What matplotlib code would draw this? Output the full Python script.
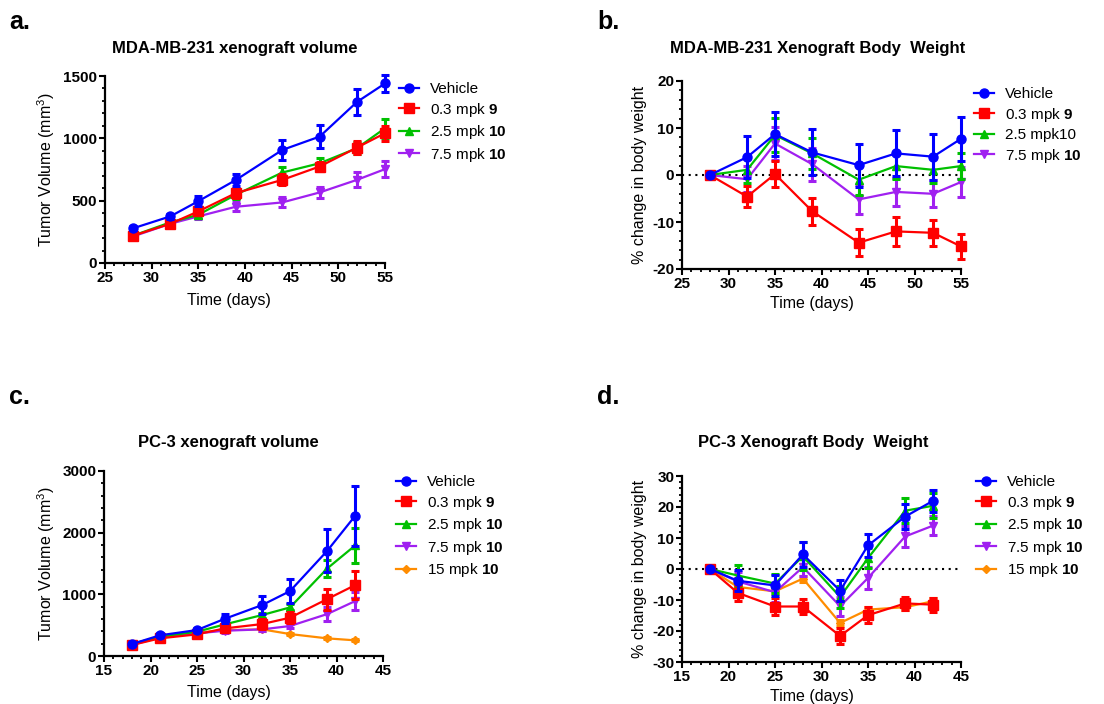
import matplotlib
matplotlib.use("Agg")
import matplotlib.pyplot as plt
from matplotlib.ticker import MultipleLocator
import numpy as np

plt.rcParams['font.family'] = ['Liberation Sans', 'DejaVu Sans']
plt.rcParams['mathtext.fontset'] = 'custom'
plt.rcParams['mathtext.rm'] = 'Liberation Sans'
plt.rcParams['mathtext.bf'] = 'Liberation Sans:bold'
plt.rcParams['mathtext.it'] = 'Liberation Sans:italic'
plt.rcParams['axes.unicode_minus'] = False

# ---------------- data ----------------
# Panel a: MDA-MB-231 xenograft volume
days_a = [28, 32, 35, 39, 44, 48, 52, 55]
vol_a_vehicle = [278, 374, 496, 665, 907, 1014, 1292, 1440]
vol_a_vehicle_err = [15, 20, 40, 45, 77, 90, 105, 65]
vol_a_03 = [219, 315, 414, 560, 667, 774, 926, 1041]
vol_a_03_err = [12, 15, 25, 40, 45, 40, 55, 60]
vol_a_25 = [219, 326, 387, 547, 726, 800, 921, 1081]
vol_a_25_err = [12, 15, 25, 35, 45, 40, 50, 75]
vol_a_75 = [213, 315, 374, 451, 486, 566, 667, 753]
vol_a_75_err = [12, 15, 20, 35, 40, 45, 60, 65]

# Panel b: MDA-MB-231 body weight (% change)
days_b = [28, 32, 35, 39, 44, 48, 52, 55]
bw_b_vehicle = [0, 3.8, 8.7, 4.8, 2.1, 4.6, 3.9, 7.7]
bw_b_vehicle_err = [0.3, 4.4, 4.7, 4.9, 4.6, 4.9, 4.9, 4.7]
bw_b_03 = [0, -4.6, 0.2, -7.7, -14.4, -12.0, -12.3, -15.2]
bw_b_03_err = [0.3, 2.3, 2.7, 2.9, 2.9, 3.1, 2.7, 2.6]
bw_b_25 = [0, 1.1, 8.5, 4.6, -1.0, 1.9, 1.1, 1.9]
bw_b_25_err = [0.3, 2.8, 3.7, 3.3, 3.3, 2.7, 2.8, 2.7]
bw_b_75 = [0, -0.9, 6.7, 2.3, -5.2, -3.6, -4.0, -1.5]
bw_b_75_err = [0.3, 2.8, 3.5, 3.5, 3.0, 2.9, 2.9, 3.2]

# Panel c: PC-3 xenograft volume
days_c = [18, 21, 25, 28, 32, 35, 39, 42]
vol_c_vehicle = [194, 335, 421, 604, 826, 1052, 1705, 2272]
vol_c_vehicle_err = [20, 30, 35, 75, 145, 190, 350, 490]
vol_c_03 = [178, 286, 351, 448, 518, 621, 923, 1149]
vol_c_03_err = [15, 25, 30, 50, 75, 90, 170, 230]
vol_c_25 = [194, 313, 394, 513, 664, 788, 1419, 1792]
vol_c_25_err = [15, 25, 30, 40, 40, 50, 135, 285]
vol_c_75 = [178, 302, 367, 410, 432, 486, 680, 890]
vol_c_75_err = [15, 20, 25, 30, 30, 40, 110, 150]
vol_c_15 = [194, 313, 378, 420, 432, 356, 286, 254]
vol_c_15_err = [10, 15, 15, 20, 20, 15, 15, 15]

# Panel d: PC-3 body weight (% change)
days_d = [18, 21, 25, 28, 32, 35, 39, 42]
bw_d_vehicle = [0, -3.8, -5.3, 4.7, -7.0, 7.6, 16.9, 22.0]
bw_d_vehicle_err = [0.3, 3.4, 3.5, 3.9, 3.3, 3.8, 4.0, 3.5]
bw_d_03 = [0, -7.7, -12.1, -12.1, -21.6, -14.9, -11.1, -11.5]
bw_d_03_err = [0.3, 2.5, 2.6, 2.4, 2.6, 2.5, 2.2, 2.3]
bw_d_25 = [0, -2.1, -4.7, 4.1, -9.0, 3.5, 18.8, 20.4]
bw_d_25_err = [0.3, 3.5, 3.0, 4.5, 3.5, 3.3, 4.0, 4.0]
bw_d_75 = [0, -4.0, -7.5, 0.6, -12.0, -2.9, 10.5, 14.0]
bw_d_75_err = [0.3, 3.0, 3.0, 3.0, 3.0, 3.5, 3.5, 3.0]
bw_d_15 = [0, -5.8, -7.2, -3.1, -17.4, -13.1, -12.3, -10.4]
bw_d_15_err = [0.3, 1.0, 1.0, 1.0, 1.0, 1.0, 1.0, 1.0]

labels_a = ['Vehicle', r'0.3 mpk $\mathbf{9}$', r'2.5 mpk $\mathbf{10}$', r'7.5 mpk $\mathbf{10}$']
labels_b = ['Vehicle', r'0.3 mpk $\mathbf{9}$', '2.5 mpk10', r'7.5 mpk $\mathbf{10}$']
labels_cd = ['Vehicle', r'0.3 mpk $\mathbf{9}$', r'2.5 mpk $\mathbf{10}$',
             r'7.5 mpk $\mathbf{10}$', r'15 mpk $\mathbf{10}$']

# ---------------- styles ----------------
colors = ['#0000FF', '#FF0000', '#00C000', '#A020F0', '#FF8C00']
markers = ['o', 's', '^', 'v', 'D']
msizes = [6.5, 6.5, 5.5, 6, 4]
zorders = [10, 9, 8, 7, 6]

W, H = 1104, 704
fig = plt.figure(figsize=(W / 100, H / 100), dpi=100)


def box(x0, y0, x1, y1):
    return [x0 / W, 1 - y1 / H, (x1 - x0) / W, (y1 - y0) / H]


def draw(ax, x, series, errs, labels, xlim, ylim, ymaj, ymin, ylabel, zero,
         leg_xy, ylab_x, xlab_xy):
    handles = []
    for i, (y, e) in enumerate(zip(series, errs)):
        c = ax.errorbar(x, y, yerr=e, color=colors[i], marker=markers[i],
                        ms=msizes[i], lw=1.6, elinewidth=2.2, capsize=3.2,
                        capthick=2.2, zorder=zorders[i], clip_on=False)
        handles.append(c[0])
    if zero:
        ax.axhline(0, color='black', ls=(0, (1, 2.2)), lw=1.5, zorder=1)
    ax.set_xlim(*xlim)
    ax.set_ylim(*ylim)
    ax.xaxis.set_major_locator(MultipleLocator(5))
    ax.xaxis.set_minor_locator(MultipleLocator(1))
    ax.yaxis.set_major_locator(MultipleLocator(ymaj))
    ax.yaxis.set_minor_locator(MultipleLocator(ymin))
    for s in ['top', 'right']:
        ax.spines[s].set_visible(False)
    for s in ['left', 'bottom']:
        ax.spines[s].set_linewidth(1.6)
    ax.tick_params(which='major', length=4, width=1.5, direction='out',
                   labelsize=11, pad=1.5)
    ax.tick_params(which='minor', length=2.5, width=1.3, direction='out')
    for t in ax.get_xticklabels() + ax.get_yticklabels():
        t.set_fontweight('bold')
    ax.set_ylabel(ylabel, fontsize=11.5)
    ax.yaxis.set_label_coords(ylab_x, 0.5)
    ax.set_xlabel('Time (days)', fontsize=11.5)
    ax.xaxis.set_label_coords(*xlab_xy)
    ax.legend(handles=handles, labels=labels, loc='upper left',
              bbox_to_anchor=(leg_xy[0] / W, 1 - leg_xy[1] / H),
              bbox_transform=fig.transFigure, frameon=False,
              fontsize=11, handlelength=1.3, handletextpad=0.7,
              labelspacing=0.3, borderpad=0, borderaxespad=0)
    return ax


# Panel a
ax_a = fig.add_axes(box(105, 76, 385, 263))
draw(ax_a, days_a, [vol_a_vehicle, vol_a_03, vol_a_25, vol_a_75],
     [vol_a_vehicle_err, vol_a_03_err, vol_a_25_err, vol_a_75_err],
     labels_a, (25, 55), (0, 1500), 500, 100, r'Tumor Volume (mm$^3$)', False,
     (399, 82), -0.171, (0.443, -0.16))

# Panel b
ax_b = fig.add_axes(box(682, 81, 961, 269))
draw(ax_b, days_b, [bw_b_vehicle, bw_b_03, bw_b_25, bw_b_75],
     [bw_b_vehicle_err, bw_b_03_err, bw_b_25_err, bw_b_75_err],
     labels_b, (25, 55), (-20, 20), 10, 2, '% change in body weight', True,
     (974, 87), -0.125, (0.466, -0.144))

# Panel c
ax_c = fig.add_axes(box(104, 471, 383, 656))
draw(ax_c, days_c, [vol_c_vehicle, vol_c_03, vol_c_25, vol_c_75, vol_c_15],
     [vol_c_vehicle_err, vol_c_03_err, vol_c_25_err, vol_c_75_err, vol_c_15_err],
     labels_cd, (15, 45), (0, 3000), 1000, 200, r'Tumor Volume (mm$^3$)', False,
     (396, 475), -0.17, (0.448, -0.157))

# Panel d
ax_d = fig.add_axes(box(682, 476, 961, 662))
draw(ax_d, days_d, [bw_d_vehicle, bw_d_03, bw_d_25, bw_d_75, bw_d_15],
     [bw_d_vehicle_err, bw_d_03_err, bw_d_25_err, bw_d_75_err, bw_d_15_err],
     labels_cd, (15, 45), (-30, 30), 10, 2, '% change in body weight', True,
     (976, 475), -0.125, (0.466, -0.145))

# Titles
fig.text(235 / W, 1 - 48 / H, 'MDA-MB-231 xenograft volume', ha='center',
         va='center', fontsize=12, fontweight='bold')
fig.text(818 / W, 1 - 48 / H, 'MDA-MB-231 Xenograft Body  Weight', ha='center',
         va='center', fontsize=12, fontweight='bold')
fig.text(228 / W, 1 - 442 / H, 'PC-3 xenograft volume', ha='center',
         va='center', fontsize=12, fontweight='bold')
fig.text(813 / W, 1 - 443 / H, 'PC-3 Xenograft Body  Weight', ha='center',
         va='center', fontsize=12, fontweight='bold')

# Panel letters
for txt, x, y in [('a.', 9, 22), ('b.', 597, 22), ('c.', 9, 397), ('d.', 597, 397)]:
    fig.text(x / W, 1 - y / H, txt, ha='left', va='center', fontsize=18,
             fontweight='bold')

fig.savefig('out.png', dpi=100)
